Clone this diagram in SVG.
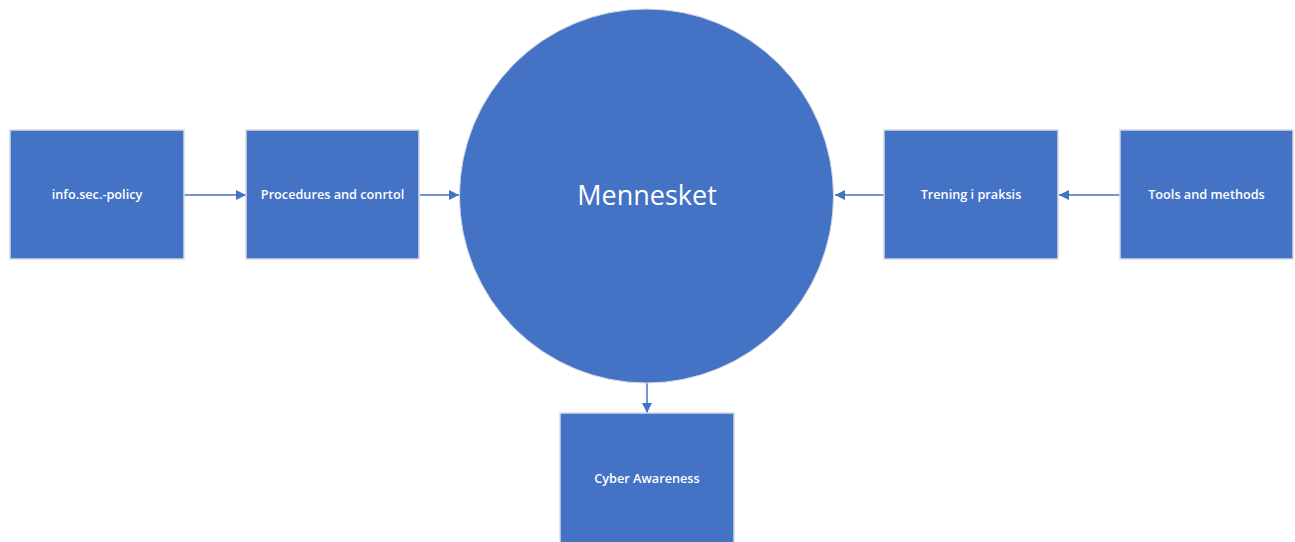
<svg xmlns="http://www.w3.org/2000/svg" width="1295" height="542" viewBox="0 0 1295 542">
<style>
.box{fill:#4472C4;stroke:#D5DAE3;stroke-width:1.5}
.lbl{fill:#fff;font-family:"Open Sans","Noto Sans",sans-serif;font-size:12.7px;font-weight:600;text-anchor:middle;dominant-baseline:central}
.big{font-size:27px;font-weight:400}
.con{stroke:#4472C4;stroke-width:1.5;fill:none;marker-end:url(#ah)}
</style>
<defs>
<marker id="ah" markerWidth="10" markerHeight="10" refX="10" refY="5" orient="auto" markerUnits="userSpaceOnUse">
<path d="M0,0 L10,5 L0,10 Z" fill="#4472C4"/>
</marker>
</defs>
<rect width="1295" height="542" fill="#fff"/>
<g id="connectors">
<line class="con" x1="184" y1="195" x2="246" y2="195"/>
<line class="con" x1="420" y1="195" x2="459" y2="195"/>
<line class="con" x1="884" y1="195" x2="835" y2="195"/>
<line class="con" x1="1120" y1="195" x2="1059" y2="195"/>
<line class="con" x1="647" y1="383" x2="647" y2="413"/>
</g>
<g id="n-policy"><rect class="box" x="10" y="130" width="174" height="129"/><text class="lbl" x="97" y="194">info.sec.-policy</text></g>
<g id="n-procedures"><rect class="box" x="246" y="130" width="173" height="129"/><text class="lbl" x="332.5" y="194">Procedures and conrtol</text></g>
<g id="n-mennesket"><circle cx="646.5" cy="196" r="187" fill="#4472C4" stroke="#D5DAE3" stroke-width="1"/><text class="lbl big" x="647" y="194">Mennesket</text></g>
<g id="n-trening"><rect class="box" x="884" y="130" width="174" height="129"/><text class="lbl" x="971" y="194">Trening i praksis</text></g>
<g id="n-tools"><rect class="box" x="1120" y="130" width="173" height="129"/><text class="lbl" x="1206.5" y="194">Tools and methods</text></g>
<g id="n-cyber"><rect class="box" x="560" y="413" width="174" height="135"/><text class="lbl" x="647" y="478">Cyber Awareness</text></g>
</svg>
